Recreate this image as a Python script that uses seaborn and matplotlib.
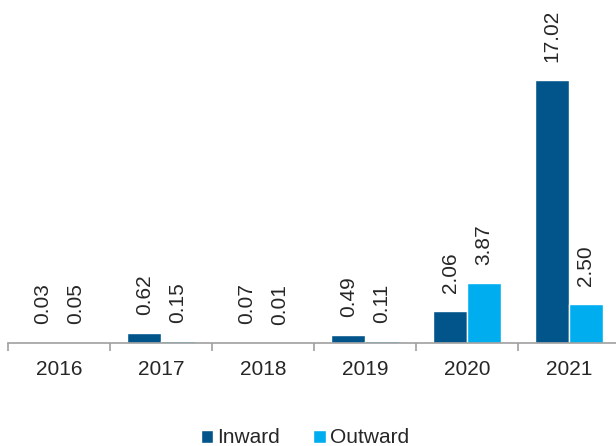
import pandas as pd
import seaborn as sns
import matplotlib.pyplot as plt

# Inward / outward values by year
years = ['2016', '2017', '2018', '2019', '2020', '2021']
inward = [0.03, 0.62, 0.07, 0.49, 2.06, 17.02]
outward = [0.05, 0.15, 0.01, 0.11, 3.87, 2.50]

df = pd.DataFrame({
    'Year': years * 2,
    'Value': inward + outward,
    'Flow': ['Inward'] * len(years) + ['Outward'] * len(years),
})

sns.set_style("white")
plt.rcParams['font.family'] = ['Liberation Sans', 'DejaVu Sans']

fig = plt.figure(figsize=(6.16, 4.46), dpi=100)
ax = fig.add_axes([8 / 616, 103 / 446, 612 / 616, 343 / 446])

palette = {'Inward': '#02558B', 'Outward': '#00AEEF'}
sns.barplot(data=df, x='Year', y='Value', hue='Flow', palette=palette,
            width=0.66, saturation=1, ax=ax, legend=True)

ax.set_ylim(0, 22.2)
ax.set_xlim(-0.5, 5.5)
ax.set_xlabel('')
ax.set_ylabel('')
ax.set_yticks([])
for s in ['top', 'right', 'left']:
    ax.spines[s].set_visible(False)
ax.spines['bottom'].set_color('#A0A0A0')
ax.spines['bottom'].set_linewidth(1.2)

ax.set_xticks(range(len(years)))
ax.set_xticks([i - 0.5 for i in range(len(years) + 1)], minor=True)
ax.tick_params(axis='x', which='major', length=0, pad=12, labelsize=15)
ax.tick_params(axis='x', which='minor', length=6, width=1.2, color='#A0A0A0',
               direction='out', bottom=True)

# Value labels above the bars
for container in ax.containers:
    for bar in container:
        h = bar.get_height()
        ax.annotate(f'{h:.2f}', (bar.get_x() + bar.get_width() / 2, h),
                    xytext=(0, 13), textcoords='offset points',
                    ha='center', va='bottom', rotation=90, fontsize=15)

handles, labels = ax.get_legend_handles_labels()
ax.legend_.remove()
fig.legend(handles, labels, loc='center', bbox_to_anchor=(0.495, 0.018),
           ncol=2, frameon=False, fontsize=15, handlelength=0.6,
           handleheight=0.6, handletextpad=0.2, columnspacing=1.6)

fig.savefig('out.png', dpi=100)
